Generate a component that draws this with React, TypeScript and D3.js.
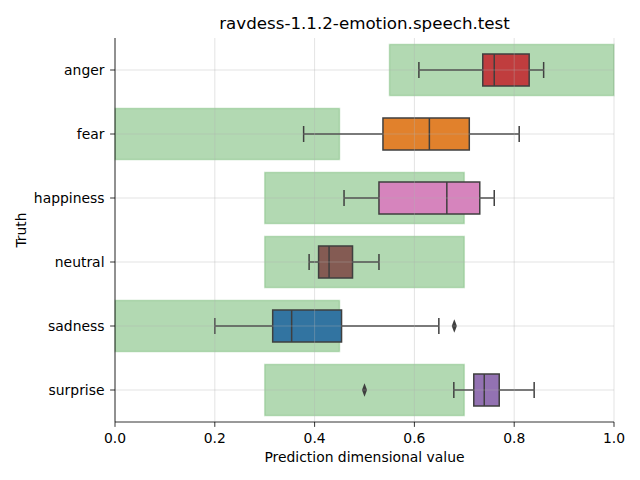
import React from "react";
import * as d3 from "d3";

const categories = ["anger", "fear", "happiness", "neutral", "sadness", "surprise"];
const colors = ["#c03d3e", "#e1812c", "#d684bd", "#845b53", "#3274a1", "#9372b2"];
const rangeLow = [0.55, 0.0, 0.3, 0.3, 0.0, 0.3];
const rangeHigh = [1.0, 0.45, 0.7, 0.7, 0.45, 0.7];
const whiskerLow = [0.609, 0.378, 0.459, 0.389, 0.2, 0.679];
const q1 = [0.737, 0.537, 0.529, 0.408, 0.316, 0.719];
const median = [0.76, 0.63, 0.665, 0.429, 0.354, 0.74];
const q3 = [0.83, 0.71, 0.731, 0.476, 0.454, 0.77];
const whiskerHigh = [0.859, 0.81, 0.76, 0.529, 0.649, 0.84];
const outliers: number[][] = [[], [], [], [], [0.68], [0.5]];
const xTicks = [0, 0.2, 0.4, 0.6, 0.8, 1.0];

const W = 640, H = 480;
const left = 115, right = 614, top = 38, bottom = 422;
const font = "DejaVu Sans, sans-serif";

export default function App() {
  const x = d3.scaleLinear().domain([0, 1]).range([left, right]);
  const y = d3.scaleBand().domain(categories).range([top, bottom]);
  const bw = y.bandwidth();
  const cy = (c: string) => (y(c) as number) + bw / 2;
  const edge = "#3f3f3f";
  const diamond = d3.symbol().type(d3.symbolDiamond).size(40)();

  return (
    <svg width={W} height={H} style={{ position: "absolute", left: 0, top: 0, background: "#fff" }} fontFamily={font}>
      {categories.map((c, i) => (
        <rect key={"r" + c} x={x(rangeLow[i])} y={cy(c) - bw * 0.4} width={x(rangeHigh[i]) - x(rangeLow[i])} height={bw * 0.8}
          fill="green" fillOpacity={0.3} stroke="green" strokeOpacity={0.18} strokeWidth={1.5} />
      ))}
      {categories.map((c, i) => {
        const yc = cy(c);
        const hb = bw * 0.25;
        const cap = bw * 0.125;
        return (
          <g key={"b" + c} stroke={edge} strokeWidth={1.5}>
            <line x1={x(whiskerLow[i])} x2={x(q1[i])} y1={yc} y2={yc} />
            <line x1={x(q3[i])} x2={x(whiskerHigh[i])} y1={yc} y2={yc} />
            <line x1={x(whiskerLow[i])} x2={x(whiskerLow[i])} y1={yc - cap} y2={yc + cap} />
            <line x1={x(whiskerHigh[i])} x2={x(whiskerHigh[i])} y1={yc - cap} y2={yc + cap} />
            <rect x={x(q1[i])} y={yc - hb} width={x(q3[i]) - x(q1[i])} height={hb * 2} fill={colors[i]} />
            <line x1={x(median[i])} x2={x(median[i])} y1={yc - hb} y2={yc + hb} />
            {outliers[i].map((o, j) => (
              <path key={j} d={diamond as string} transform={`translate(${x(o)},${yc}) scale(0.75,1.15)`} fill={edge} stroke="none" />
            ))}
          </g>
        );
      })}
      <g stroke="#b0b0b0" strokeOpacity={0.45} strokeWidth={0.8}>
        {xTicks.map((t) => (
          <line key={"gx" + t} x1={x(t)} x2={x(t)} y1={top} y2={bottom} />
        ))}
        {categories.map((c) => (
          <line key={"gy" + c} x1={left} x2={right} y1={cy(c)} y2={cy(c)} />
        ))}
      </g>
      <line x1={left} x2={left} y1={top} y2={bottom} stroke="#000" strokeWidth={0.8} />
      <line x1={left} x2={right} y1={bottom} y2={bottom} stroke="#000" strokeWidth={0.8} />
      {xTicks.map((t) => (
        <g key={"xt" + t}>
          <line x1={x(t)} x2={x(t)} y1={bottom} y2={bottom + 4.9} stroke="#000" strokeWidth={0.8} />
          <text x={x(t)} y={bottom + 21} textAnchor="middle" fontSize={13.9} fill="#000">{d3.format(".1f")(t)}</text>
        </g>
      ))}
      {categories.map((c) => (
        <g key={"yt" + c}>
          <line x1={left - 4.9} x2={left} y1={cy(c)} y2={cy(c)} stroke="#000" strokeWidth={0.8} />
          <text x={left - 10.5} y={cy(c)} dy="0.35em" textAnchor="end" fontSize={13.9} fill="#000">{c}</text>
        </g>
      ))}
      <text x={(left + right) / 2} y={462} textAnchor="middle" fontSize={13.9} fill="#000">Prediction dimensional value</text>
      <text transform={`translate(26,${(top + bottom) / 2}) rotate(-90)`} textAnchor="middle" fontSize={13.9} fill="#000">Truth</text>
      <text x={(left + right) / 2} y={29} textAnchor="middle" fontSize={16.7} fill="#000">ravdess-1.1.2-emotion.speech.test</text>
    </svg>
  );
}
